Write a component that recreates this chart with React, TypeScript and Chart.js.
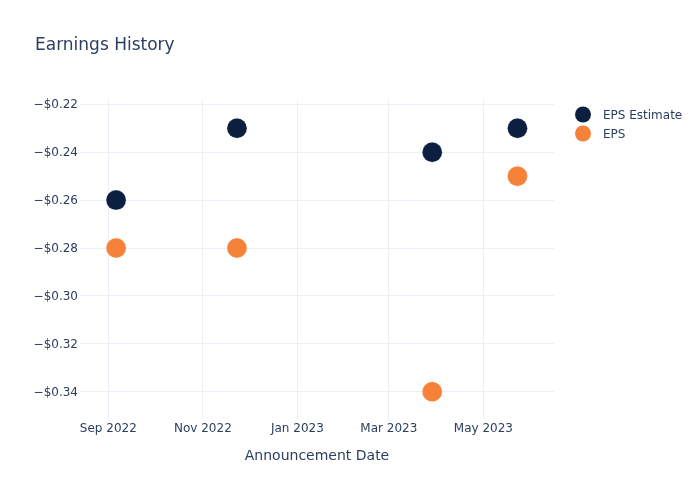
import React, { useEffect, useRef } from "react";
import { Chart, registerables } from "chart.js";

Chart.register(...registerables);

const titleText = "Earnings History";
const xAxisTitle = "Announcement Date";
const announcementDates = ["2022-09-06", "2022-11-23", "2023-03-29", "2023-05-23"];
const epsEstimate = [-0.26, -0.23, -0.24, -0.23];
const epsActual = [-0.28, -0.28, -0.34, -0.25];
const yTicks = [-0.22, -0.24, -0.26, -0.28, -0.3, -0.32, -0.34];
const xTickDates = ["2022-09-01", "2022-11-01", "2023-01-01", "2023-03-01", "2023-05-01"];
const xTickLabels = ["Sep 2022", "Nov 2022", "Jan 2023", "Mar 2023", "May 2023"];
const xRange = ["2022-08-13T17:00:00Z", "2023-06-15T14:00:00Z"];
const yRange = [-0.3518, -0.2182];

const FONT = "'DejaVu Sans', sans-serif";
const TEXT = "#2a3f5f";
const GRID = "#ebf0f8";
const NAVY = "#0c1f40";
const ORANGE = "#f58238";

const ts = (s: string) => new Date(s.length === 10 ? s + "T00:00:00Z" : s).getTime();

const overlayPlugin = {
  id: "overlay",
  afterDraw(chart: any) {
    const ctx = chart.ctx;
    ctx.save();
    ctx.fillStyle = TEXT;
    ctx.font = `17px ${FONT}`;
    ctx.textAlign = "left";
    ctx.textBaseline = "middle";
    ctx.fillText(titleText, 35, 45.5);
    ctx.font = `12px ${FONT}`;
    chart.data.datasets.forEach((ds: any, i: number) => {
      const y = 114.5 + i * 19;
      ctx.beginPath();
      ctx.arc(583, y, 8, 0, Math.PI * 2);
      ctx.fillStyle = ds.backgroundColor;
      ctx.fill();
      ctx.fillStyle = TEXT;
      ctx.fillText(ds.label, 603, y + 1);
    });
    ctx.restore();
  },
};

export default function App() {
  const ref = useRef<HTMLCanvasElement>(null);
  useEffect(() => {
    if (!ref.current) return;
    const chart = new Chart(ref.current, {
      type: "scatter",
      data: {
        datasets: [
          {
            label: "EPS Estimate",
            data: announcementDates.map((d, i) => ({ x: ts(d), y: epsEstimate[i] })),
            backgroundColor: NAVY,
            borderColor: "rgba(255,255,255,0.5)",
            pointRadius: 10,
            pointBorderWidth: 0.5,
          },
          {
            label: "EPS",
            data: announcementDates.map((d, i) => ({ x: ts(d), y: epsActual[i] })),
            backgroundColor: ORANGE,
            borderColor: "rgba(255,255,255,0.5)",
            pointRadius: 10,
            pointBorderWidth: 0.5,
          },
        ],
      },
      options: {
        responsive: false,
        animation: false,
        layout: { padding: { left: 0, top: 100, right: 146, bottom: 0 } },
        plugins: { legend: { display: false }, title: { display: false }, tooltip: { enabled: false } },
        scales: {
          x: {
            type: "linear",
            min: ts(xRange[0]),
            max: ts(xRange[1]),
            afterFit: (s: any) => {
              s.height = 80;
            },
            afterBuildTicks: (s: any) => {
              s.ticks = xTickDates.map((d) => ({ value: ts(d) }));
            },
            border: { display: false },
            grid: { color: GRID, lineWidth: 1, drawTicks: false },
            ticks: {
              color: TEXT,
              font: { family: FONT, size: 12 },
              padding: 2,
              maxRotation: 0,
              autoSkip: false,
              callback: (_v: any, i: number) => xTickLabels[i],
            },
            title: {
              display: true,
              text: xAxisTitle,
              color: TEXT,
              font: { family: FONT, size: 14 },
              padding: { top: 0, bottom: 35 },
            },
          },
          y: {
            type: "linear",
            min: yRange[0],
            max: yRange[1],
            afterFit: (s: any) => {
              s.width = 80;
            },
            afterBuildTicks: (s: any) => {
              s.ticks = yTicks.map((v) => ({ value: v }));
            },
            border: { display: false },
            grid: { color: GRID, lineWidth: 1, drawTicks: false },
            ticks: {
              color: TEXT,
              font: { family: FONT, size: 12 },
              padding: 2,
              labelOffset: 1,
              autoSkip: false,
              callback: (v: any) => "\u2212$" + Math.abs(Number(v)).toFixed(2),
            },
          },
        },
      },
      plugins: [overlayPlugin],
    } as any);
    return () => chart.destroy();
  }, []);
  return (
    <div style={{ position: "absolute", left: 0, top: 0, width: 700, height: 500, background: "#fff" }}>
      <canvas ref={ref} width={700} height={500} />
    </div>
  );
}
